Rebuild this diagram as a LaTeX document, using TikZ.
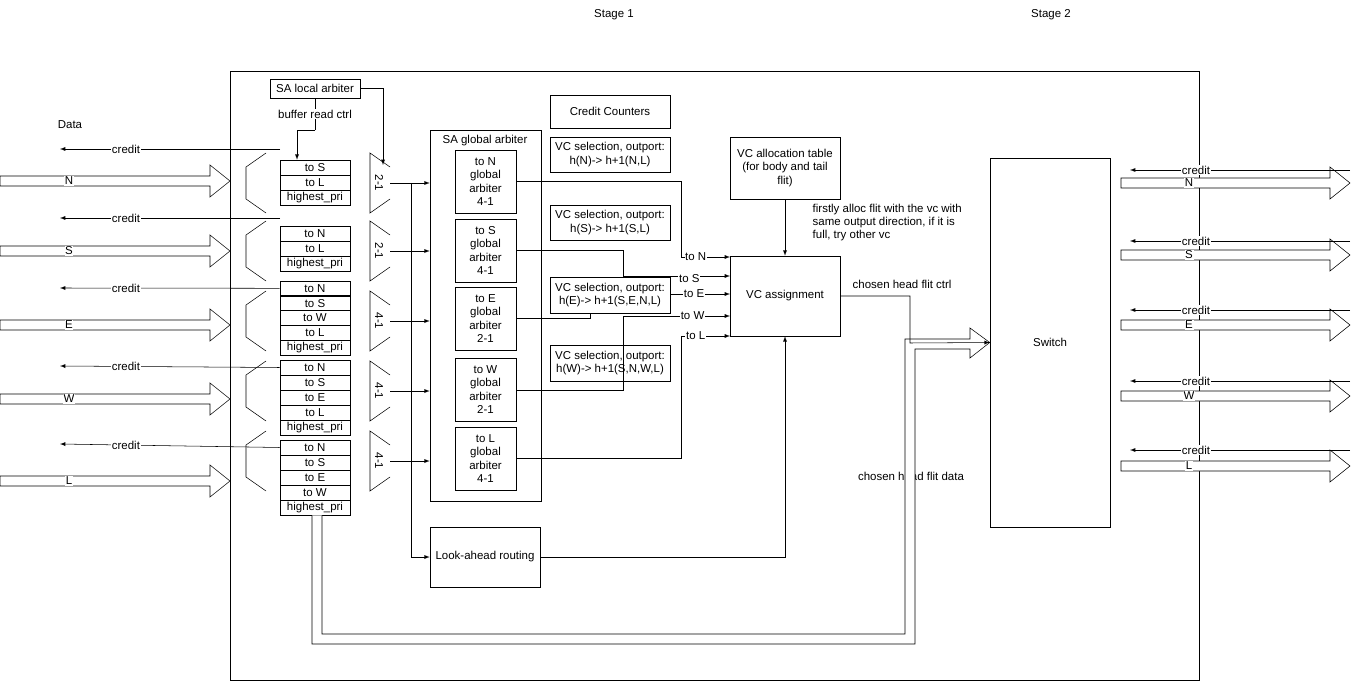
\documentclass[tikz,border=0pt]{standalone}
\usepackage{fontspec}
\setmainfont{Liberation Sans}
\usetikzlibrary{calc}

\tikzset{
  box/.style={draw, fill=white, align=center, inner sep=1pt},
  qrow/.style={draw, minimum width=70*0.75pt, minimum height=15*0.75pt, inner sep=0pt},
  lbl/.style={fill=white, inner sep=0.5pt},
  wire/.style={draw, ->, >=latex},
}
% box of given centre and size in pixels
\newcommand\blk[6]{\node[box, minimum width=#4*0.75pt, minimum height=#5*0.75pt] (#1) at (#2,#3) {#6};}
% hollow data arrow from x #1 to tip #2 at height #3
\newcommand\fatarrow[3]{\draw[fill=white] (#1,#3-5) -- (#2-20,#3-5) -- (#2-20,#3-16) -- (#2,#3) -- (#2-20,#3+16) -- (#2-20,#3+5) -- (#1,#3+5) -- cycle;}

\begin{document}
\begin{tikzpicture}[x=0.75pt,y=-0.75pt,font=\fontsize{8.6}{10}\selectfont]
\useasboundingbox (0,0) rectangle (1360,681);
% Stages
\node (st1) at (614,15) {Stage 1};
\node (st2) at (1051,15) {Stage 2};
\draw (230,71) rectangle (1199,680);
\node (data) at (70,125) {Data};

% Input ports
\foreach \p/\y/\c in {N/181/149,S/251/218,E/325/288,W/399/366,L/481/444} {
  \fatarrow{0}{230}{\y}
  \node[lbl] (in\p) at (69,\y) {\p};
  \coordinate (cr\p) at (60,\c);
}
\draw[wire] (280,149) -- (crN) node[lbl, pos=0.7] {credit};
\draw[wire] (280,218) -- (crS) node[lbl, pos=0.7] {credit};

% Demultiplexers
\foreach \t in {153,221,291,361,431} {
  \draw (266,\t) -- (246,\t+14) -- (246,\t+46) -- (266,\t+60);
}

% Input queues
\foreach \t [count=\i] in {to S,to L,highest\_pri} {\node[qrow] (qN\i) at (315,152.5+15*\i) {\t};}
\foreach \t [count=\i] in {to N,to L,highest\_pri} {\node[qrow] (qS\i) at (315,218.5+15*\i) {\t};}
\foreach \t [count=\i] in {to N,to S,to W,to L,highest\_pri} {\node[qrow] (qE\i) at (315,273.5+14.8*\i) {\t};}
\foreach \t [count=\i] in {to N,to S,to E,to L,highest\_pri} {\node[qrow] (qW\i) at (315,352.5+15*\i) {\t};}
\foreach \t [count=\i] in {to N,to S,to E,to W,highest\_pri} {\node[qrow] (qL\i) at (315,432.5+15*\i) {\t};}
\draw[wire] (qE1.west) -- (crE) node[lbl, pos=0.7] {credit};
\draw[wire] (qW1.west) -- (crW) node[lbl, pos=0.7] {credit};
\draw[wire] (qL1.west) -- (crL) node[lbl, pos=0.7] {credit};

% SA local arbiter
\blk{loc}{315}{88.5}{90}{19}{SA local arbiter}
\draw (loc.south) -- (315,130) node[lbl, pos=0.5] {buffer read ctrl};
\draw[wire] (315,130) -| (qN1.north -| 297,0);

% Multiplexers
\foreach \t/\m [count=\i] in {153/2-1,221/2-1,291/4-1,361/4-1,431/4-1} {
  \draw (390,\t+14) -- (370,\t) -- (370,\t+60) -- (390,\t+46);
  \node[rotate=-90, inner sep=0pt] (mux\i) at (379,\t+30) {\m};
  \coordinate (mo\i) at (390,\t+30);
}
\draw[wire] (loc.east) -| (383,165);

% SA global arbiter
\node[draw, minimum width=111*0.75pt, minimum height=371*0.75pt] (glob) at (485.5,315.5) {};
\node (globt) at (485,141) {SA global arbiter};
\foreach \d/\y/\m in {N/181.5/4-1,S/250.5/4-1,E/318.5/2-1,W/389.5/2-1,L/458.5/4-1} {
  \blk{arb\d}{485.5}{\y}{61}{63}{to \d\\global\\arbiter\\\m}
}
\foreach \i in {1,...,5} {\draw[wire] (mo\i) -- (mo\i -| glob.west);}

% Look-ahead routing
\blk{lar}{485}{557}{110}{60}{Look-ahead routing}
\draw[wire] (411,183) -- (411,557) -- (lar.west);

% Credit counters and VC selection
\blk{cc}{610}{111.5}{120}{33}{Credit Counters}
\blk{vs1}{610}{154.5}{120}{35}{VC selection, outport:\\h(N)-> h+1(N,L)}
\blk{vs2}{610}{222.5}{120}{35}{VC selection, outport:\\h(S)-> h+1(S,L)}
\blk{vs3}{610}{295}{120}{36}{VC selection, outport:\\h(E)-> h+1(S,E,N,L)}
\blk{vs4}{610}{363}{120}{36}{VC selection, outport:\\h(W)-> h+1(S,N,W,L)}

% VC assignment
\blk{vca}{785}{296}{110}{80}{VC assignment}
\blk{vct}{785}{168}{110}{62}{VC allocation table\\(for body and tail\\flit)}
\draw[wire] (vct.south) -- (vca.north);
\node[align=left, anchor=north west] (firstly) at (808,199) {firstly alloc flit with the vc with\\same output direction, if it is\\full, try other vc};
\coordinate (inN) at (730,257);
\coordinate (inS) at (730,276);
\coordinate (inE) at (730,294);
\coordinate (inW) at (730,316);
\coordinate (inL) at (730,336);
\draw (arbN.east |- 0,181) -| (681,257);
\draw[wire] (681,257) -- (inN) node[lbl, pos=0.3] {to N};
\draw (arbS.east |- 0,250) -| (623,276);
\draw[wire] (623,276) -- (inS) node[lbl, pos=0.62, below=-2pt] {to S};
\draw (arbE.east |- 0,318) -| (vs3.south -| 590,0);
\draw[wire] (vs3.east |- inE) -- (inE) node[lbl, pos=0.4] {to E};
\draw (arbW.east |- 0,390) -| (623,316);
\draw[wire] (623,316) -- (inW) node[lbl, pos=0.65] {to W};
\draw (arbL.east |- 0,458) -| (681,336);
\draw[wire] (681,336) -- (inL) node[lbl, pos=0.3] {to L};
\draw[wire] (lar.east) -| (vca.south);

% Switch
\node[draw, minimum width=120*0.75pt, minimum height=369*0.75pt] (sw) at (1050,342.5) {Switch};
\node[anchor=south west] (ctrl) at (848,293) {chosen head flit ctrl};
\node (hfd) at (911,476) {chosen head flit data};
\draw[fill=white] (qL5.south -| 322,0) -- (322,634) -- (905,634) -- (905,339) -- (970,339) -- (970,328)
  -- (sw.west) -- (970,358) -- (970,349) -- (915,349) -- (915,644) -- (312,644) -- (qL5.south -| 312,0);
\draw[wire] (vca.east |- 0,296) -| (910,343) -- (sw.west);

% Output ports
\foreach \p/\y/\c in {N/183/170,S/255/241,E/325/310,W/396/381,L/466/450} {
  \fatarrow{1121}{1350}{\y}
  \node[lbl] (out\p) at (1189,\y) {\p};
  \coordinate (oc\p) at (1350,\c);
  \draw[wire] (oc\p) -- (1130,\c) node[lbl, pos=0.7] {credit};
}
\end{tikzpicture}
\end{document}
